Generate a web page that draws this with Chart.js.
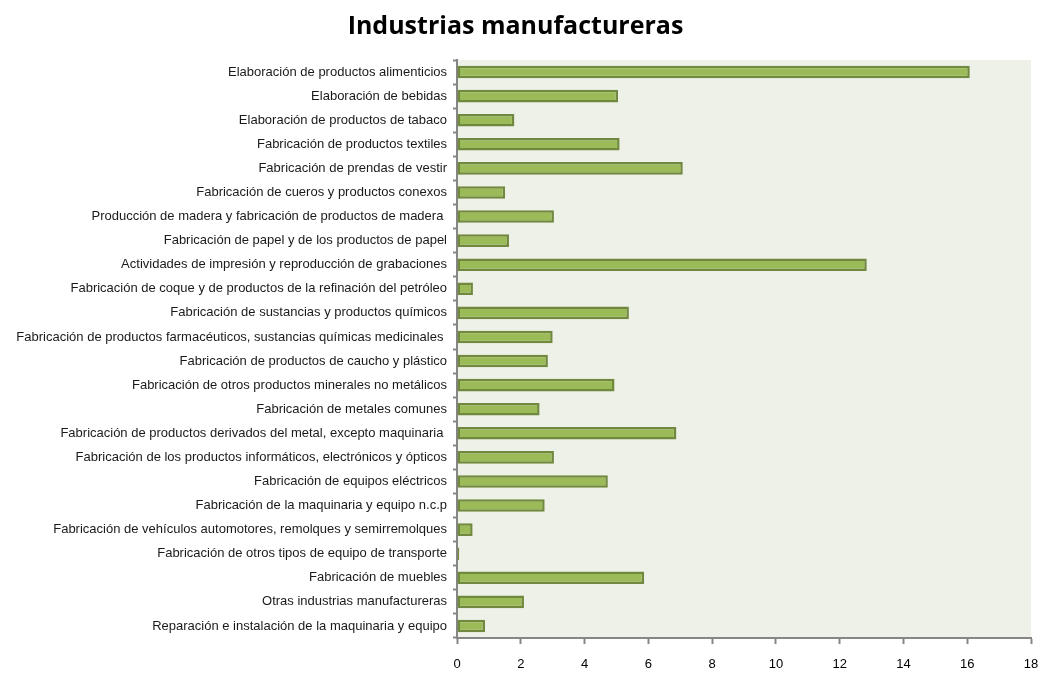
<!DOCTYPE html>
<html>
<head>
<meta charset="utf-8">
<script src="https://cdn.jsdelivr.net/npm/chart.js@4"></script>
<style>
  html, body { margin: 0; padding: 0; background: #ffffff; }
  #wrap { width: 1040px; height: 674px; }
</style>
</head>
<body>
<div id="wrap"><canvas id="grafico" width="1040" height="674"></canvas></div>
<script>
const categorias = [
    'Elaboración de productos alimenticios',
    'Elaboración de bebidas',
    'Elaboración de productos de tabaco',
    'Fabricación de productos textiles',
    'Fabricación de prendas de vestir',
    'Fabricación de cueros y productos conexos',
    'Producción de madera y fabricación de productos de madera ',
    'Fabricación de papel y de los productos de papel',
    'Actividades de impresión y reproducción de grabaciones',
    'Fabricación de coque y de productos de la refinación del petróleo',
    'Fabricación de sustancias y productos químicos',
    'Fabricación de productos farmacéuticos, sustancias químicas medicinales ',
    'Fabricación de productos de caucho y plástico',
    'Fabricación de otros productos minerales no metálicos',
    'Fabricación de metales comunes',
    'Fabricación de productos derivados del metal, excepto maquinaria ',
    'Fabricación de los productos informáticos, electrónicos y ópticos',
    'Fabricación de equipos eléctricos',
    'Fabricación de la maquinaria y equipo n.c.p',
    'Fabricación de vehículos automotores, remolques y semirremolques',
    'Fabricación de otros tipos de equipo de transporte',
    'Fabricación de muebles',
    'Otras industrias manufactureras',
    'Reparación e instalación de la maquinaria y equipo'
];

const valores = [
    16.08, 5.05, 1.80, 5.10, 7.08, 1.51, 3.04, 1.63,
    12.85, 0.50, 5.39, 3.00, 2.85, 4.94, 2.59, 6.88,
    3.04, 4.73, 2.75, 0.49, 0.07, 5.87, 2.10, 0.88
];

const ticksX = [0, 2, 4, 6, 8, 10, 12, 14, 16, 18];

// fondo del area de trazado
const fondoPlot = {
    id: 'fondoPlot',
    beforeDraw(chart) {
        const { ctx, chartArea } = chart;
        ctx.save();
        ctx.fillStyle = '#eef1e8';
        ctx.fillRect(chartArea.left, chartArea.top, chartArea.right - chartArea.left, chartArea.bottom - chartArea.top);
        ctx.restore();
    }
};

const dataBarras = {
    labels: categorias,
    datasets: [{
        label: 'Industrias manufactureras',
        data: valores,
        backgroundColor: '#9bbb59',
        borderColor: '#71893f',
        borderWidth: 2.5,
        borderSkipped: false,
        barPercentage: 0.52,
        categoryPercentage: 1.0
    }]
};

const configBarras = {
    type: 'bar',
    data: dataBarras,
    plugins: [fondoPlot],
    options: {
        indexAxis: 'y',
        responsive: false,
        animation: false,
        layout: {
            padding: { left: 0, right: 9, top: 0, bottom: 0 }
        },
        scales: {
            x: {
                min: 0,
                max: 18,
                afterBuildTicks: (axis) => {
                    axis.ticks = ticksX.map(v => ({ value: v }));
                },
                afterFit: (axis) => {
                    axis.height = 36;
                    axis.paddingLeft = 0;
                    axis.paddingRight = 0;
                },
                grid: {
                    drawOnChartArea: false,
                    drawTicks: true,
                    tickLength: 6,
                    tickColor: '#868686',
                    tickWidth: 2
                },
                border: { color: '#868686', width: 2 },
                ticks: {
                    color: '#000000',
                    padding: 13,
                    maxRotation: 0,
                    font: { family: 'Liberation Sans', size: 13 }
                }
            },
            y: {
                afterFit: (axis) => {
                    axis.width = 457;
                    axis.paddingTop = 0;
                    axis.paddingBottom = 0;
                },
                grid: {
                    drawOnChartArea: false,
                    offset: true,
                    tickLength: 4,
                    tickColor: '#868686',
                    tickWidth: 2
                },
                border: { color: '#868686', width: 2 },
                ticks: {
                    color: '#1a1a1a',
                    padding: 6,
                    autoSkip: false,
                    font: { family: 'Liberation Sans', size: 13 }
                }
            }
        },
        plugins: {
            legend: { display: false },
            tooltip: { enabled: false },
            title: {
                display: true,
                text: 'Industrias manufactureras',
                color: '#000000',
                font: { family: 'Open Sans', size: 25, weight: 'bold' },
                padding: { top: 12, bottom: 18 }
            }
        }
    }
};

var ctxBarras = document.getElementById('grafico').getContext('2d');
var grafico = new Chart(ctxBarras, configBarras);
</script>
</body>
</html>
